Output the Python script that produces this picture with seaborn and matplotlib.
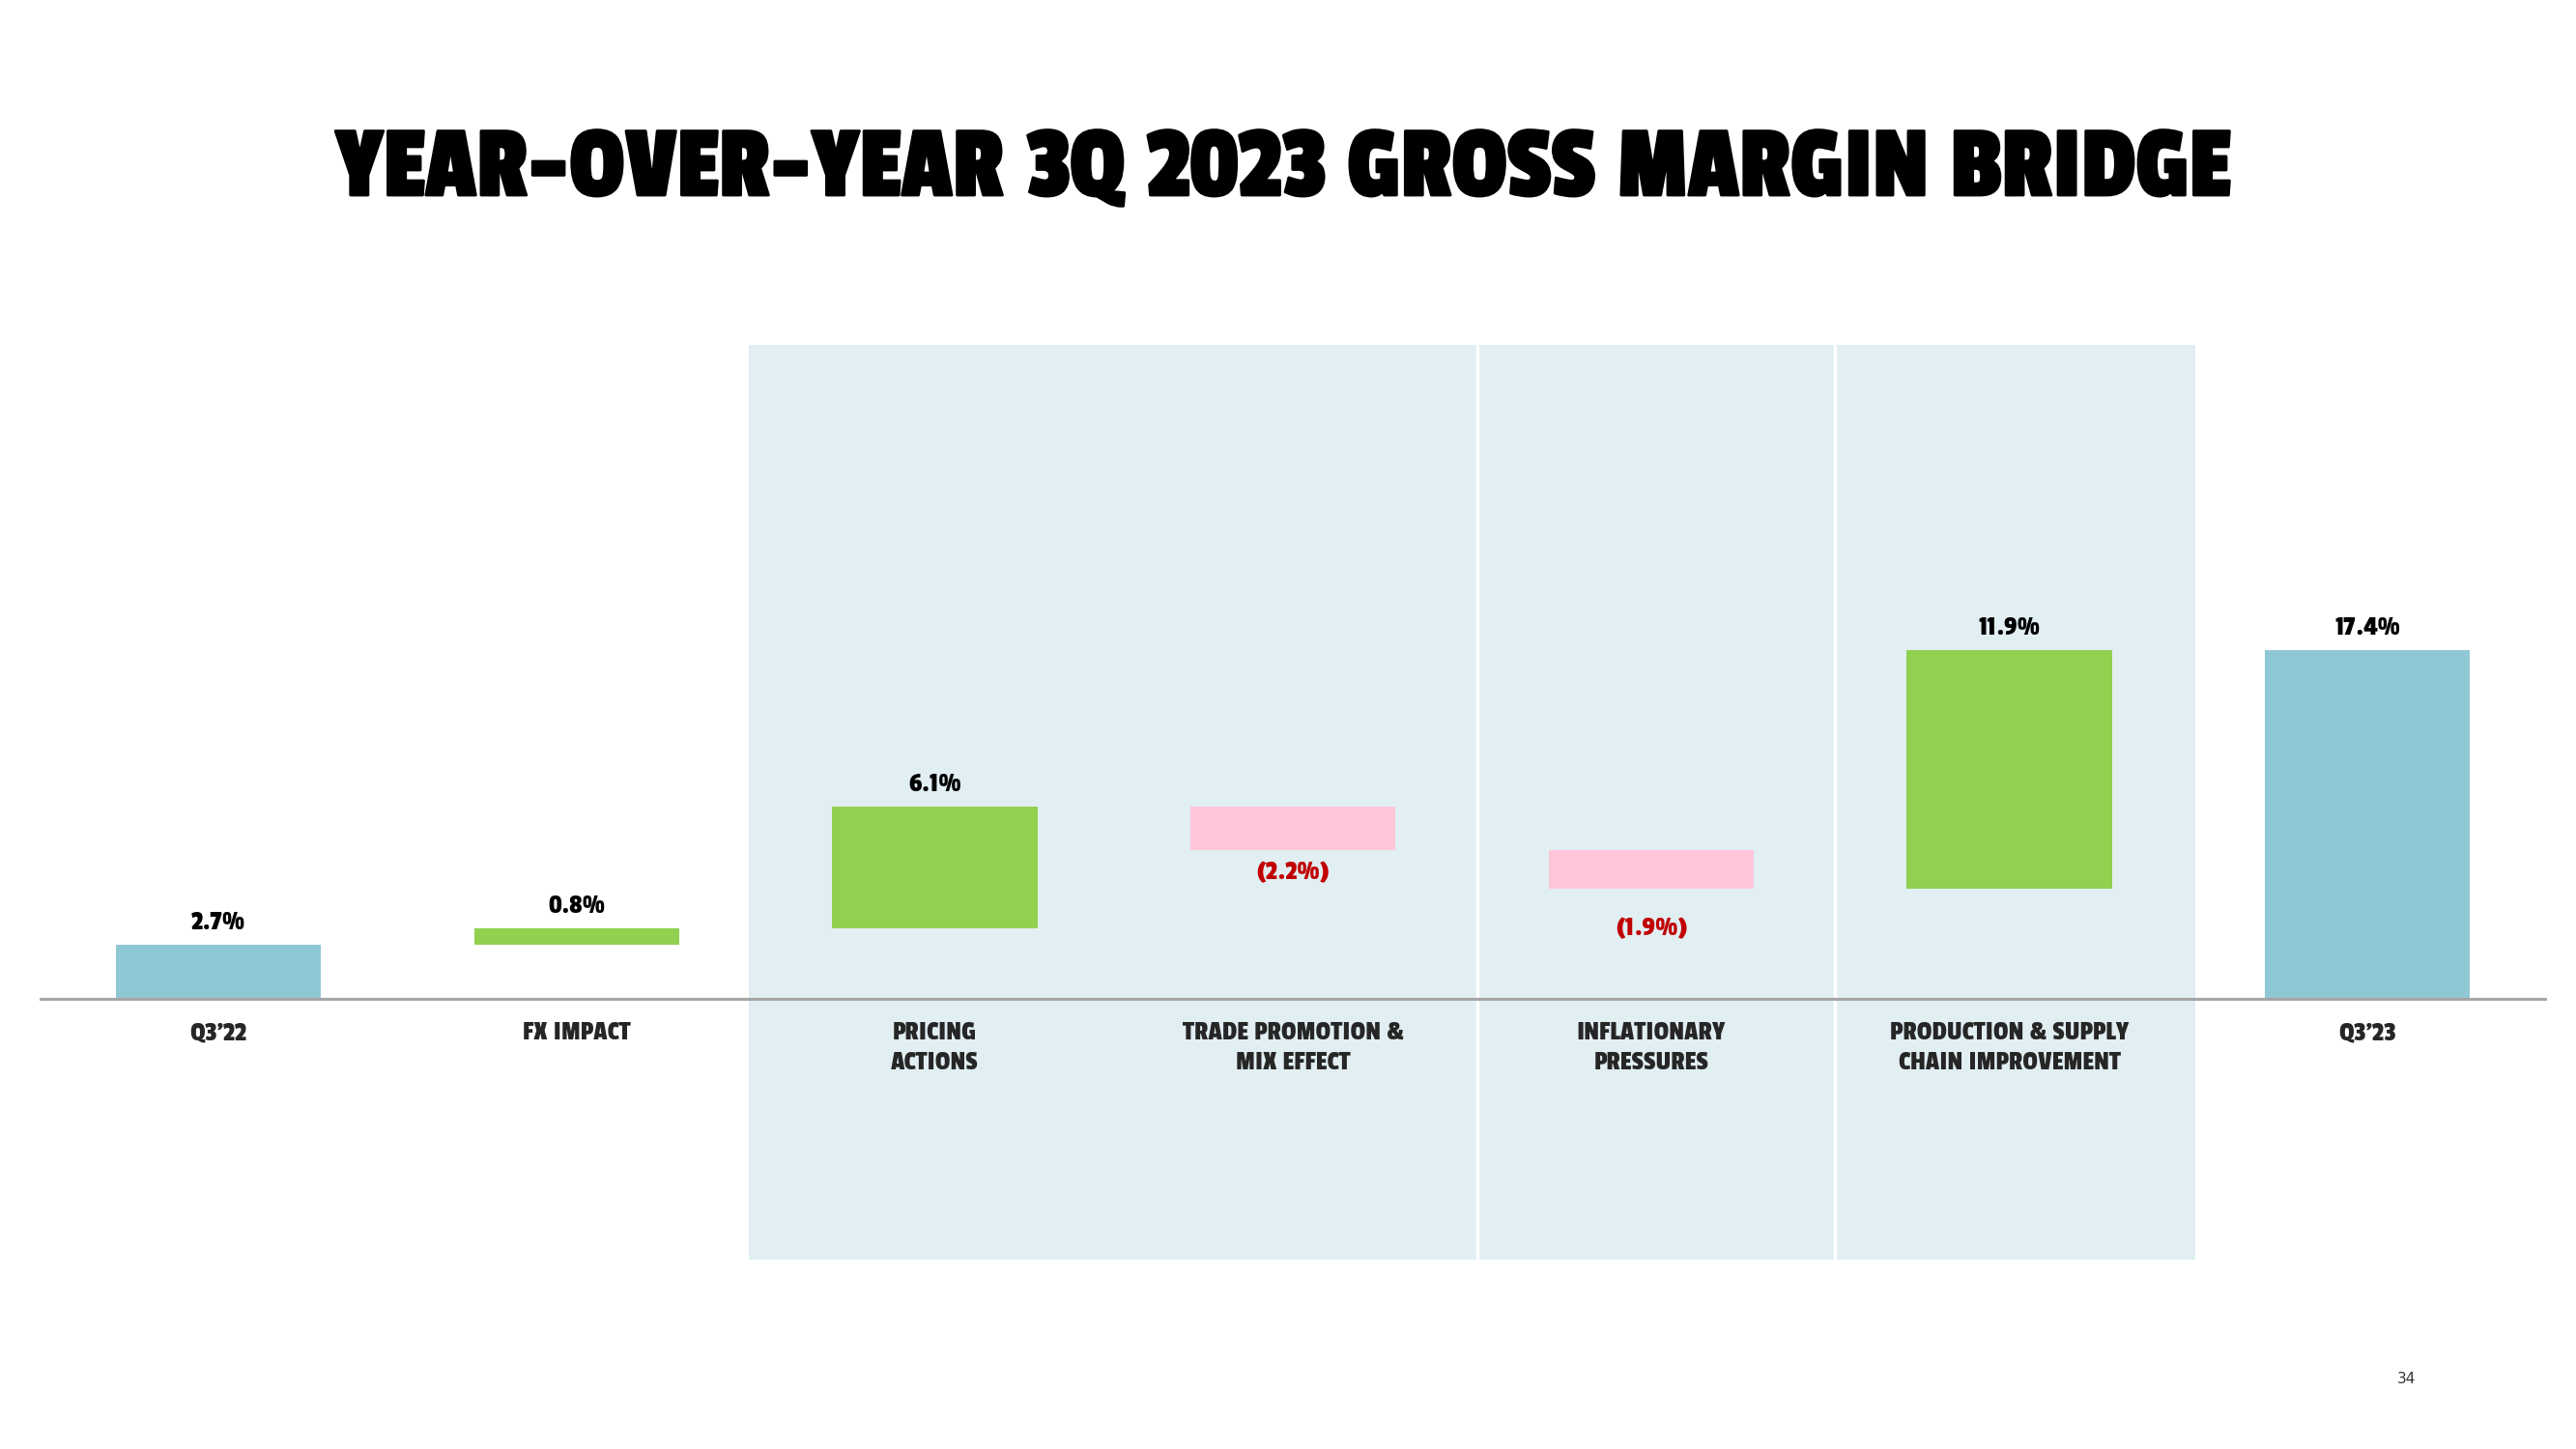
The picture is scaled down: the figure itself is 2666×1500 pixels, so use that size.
import matplotlib
matplotlib.use("Agg")
import matplotlib.pyplot as plt
import matplotlib.patheffects as pe
import seaborn as sns
import pandas as pd

# ---- data ----
categories = ["Q3’22", "FX IMPACT", "PRICING\nACTIONS", "TRADE PROMOTION &\nMIX EFFECT",
              "INFLATIONARY\nPRESSURES", "PRODUCTION & SUPPLY\nCHAIN IMPROVEMENT", "Q3’23"]
values = [2.7, 0.8, 6.1, -2.2, -1.9, 11.9, 17.4]
kinds = ["total", "delta", "delta", "delta", "delta", "delta", "total"]
title = "YEAR-OVER-YEAR 3Q 2023 GROSS MARGIN BRIDGE"
page_number = "34"

# ---- style ----
sns.set_style("white")
FONT = ["Passion One", "Anton", "DejaVu Sans"]
plt.rcParams["font.family"] = FONT

C_TOTAL = "#8FC8D5"
C_UP = "#92D050"
C_DOWN = "#FFC6D9"
C_SHADE = "#E1EEF2"
C_NEG_TXT = "#C00000"
C_BASE = "#A6A6A6"

fig = plt.figure(figsize=(26.66, 15), dpi=100)
ax = fig.add_axes([0.0153, 0.1306, 0.9733, 0.6313])

# compute waterfall bottoms / heights
bottoms, heights, colors = [], [], []
running = 0.0
for v, k in zip(values, kinds):
    if k == "total":
        bottoms.append(0.0)
        heights.append(v)
        colors.append(C_TOTAL)
        running = v
    else:
        bottoms.append(running)
        heights.append(v)
        colors.append(C_UP if v >= 0 else C_DOWN)
        running += v

# shaded background
ax.axvspan(1.48, 5.52, color=C_SHADE, lw=0, zorder=0)
for xv in (3.515, 4.512):
    ax.axvline(xv, color="white", lw=2.5, zorder=0.5)

# bars
for cat, h, b, c in zip(categories, heights, bottoms, colors):
    df = pd.DataFrame({"cat": [cat], "val": [h]})
    sns.barplot(data=df, x="cat", y="val", order=categories, color=c, saturation=1,
                width=0.573, bottom=b, errorbar=None, linewidth=0, ax=ax, zorder=2)

ax.axhline(0, color=C_BASE, lw=2.2, zorder=3)

ax.set_xlim(-0.5, 6.5)
ax.set_ylim(-13.03, 32.63)
for s in ax.spines.values():
    s.set_visible(False)
ax.spines["bottom"].set_position(("data", 0))
ax.set_yticks([])
ax.set_xlabel("")
ax.set_ylabel("")
ax.set_xticks(range(len(categories)))
ax.set_xticklabels(categories, fontsize=21, linespacing=1.48, family=FONT)
ax.tick_params(axis="x", length=0, pad=17.5)
ax.set_facecolor("none")

# value labels
neg_offsets = [23, 41]
ni = 0
for i, (v, h, b) in enumerate(zip(values, heights, bottoms)):
    top = max(b, b + h)
    low = min(b, b + h)
    if v >= 0:
        ax.annotate(f"{v:.1f}%", (i, top), xytext=(0, 23), textcoords="offset pixels",
                    ha="center", va="center", fontsize=21,
                    color="black", family=FONT, zorder=4)
    else:
        ax.annotate(f"({abs(v):.1f}%)", (i, low), xytext=(0, -neg_offsets[ni]),
                    textcoords="offset pixels", ha="center", va="center", fontsize=21,
                    color=C_NEG_TXT, family=FONT, zorder=4)
        ni += 1

# title
fig.text(0.4985, 1 - 202 / 1500, title, ha="center", va="baseline", fontsize=77,
         family=FONT, color="black",
         path_effects=[pe.withStroke(linewidth=2, foreground="black")])

# page number
fig.text(2490 / 2666, 1 - 1427 / 1500, page_number, ha="center", va="center",
         fontsize=11, color="#333333", family=["DejaVu Sans"])

fig.savefig("out.png", dpi=100, facecolor="white")
